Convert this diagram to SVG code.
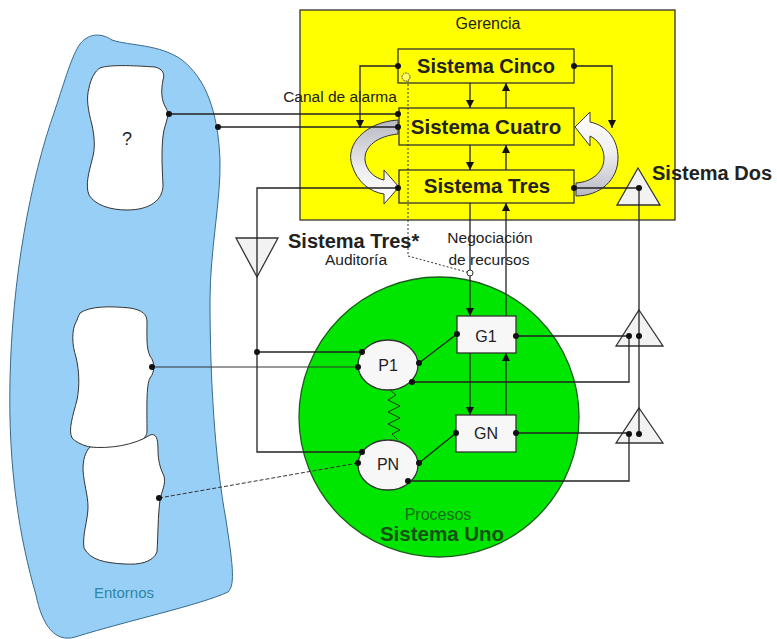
<svg xmlns="http://www.w3.org/2000/svg" width="777" height="639" viewBox="0 0 777 639">
<defs>
<style>
.ln{fill:none;stroke:#222;stroke-width:1.3}
.thin{fill:none;stroke:#333;stroke-width:1}
.dot{fill:#111}
.box{fill:#ffff00;stroke:#333;stroke-width:1.3}
.wbox{fill:#f7f7f7;stroke:#333;stroke-width:1.3}
.tri{fill:#f2f2f2;stroke:#333;stroke-width:1.3}
.hole{fill:#fff;stroke:#333;stroke-width:1}
.t{font-family:"Liberation Sans",Arial,sans-serif;fill:#222}
.b{font-weight:bold}
</style>
<marker id="arr" viewBox="0 0 10 10" refX="10" refY="5" markerWidth="8" markerHeight="8" markerUnits="userSpaceOnUse" orient="auto">
<path d="M0,0 L10,5 L0,10 z" fill="#111"/>
</marker>
<linearGradient id="gL" x1="0" y1="0" x2="0" y2="1">
<stop offset="0" stop-color="#b8b8c4"/>
<stop offset="0.6" stop-color="#eeeeee"/>
<stop offset="1" stop-color="#ffffff"/>
</linearGradient>
<linearGradient id="gR" x1="0" y1="0" x2="0" y2="1">
<stop offset="0" stop-color="#ffffff"/>
<stop offset="0.5" stop-color="#eeeeee"/>
<stop offset="1" stop-color="#b8b8c4"/>
</linearGradient>
</defs>

<g id="entornos">
<path d="M80,44 C88,34 100,32 112,40 C130,46 160,44 182,60 C205,78 218,110 220,160 C221,200 210,250 210,300 C210,380 215,460 226,520 C232,560 236,585 228,592 C200,605 130,620 75,637 C55,643 42,625 36,595 C20,540 8,470 10,380 C12,280 30,180 55,110 C65,80 72,55 80,44 Z" fill="#98cff6" stroke="#3a6a8a" stroke-width="1"/>
<path class="hole" d="M100,68 C110,64 140,66 155,67 C163,69 165,74 163,80 C161,90 161,100 166,108 C170,114 166,122 164,130 C161,145 162,165 163,185 C163,200 150,210 127,210 C110,210 95,205 89,195 C85,185 89,172 92,160 C96,147 94,135 92,125 C88,110 86,98 89,88 C91,78 95,71 100,68 Z"/>
<text class="t" x="127" y="145" font-size="18" text-anchor="middle">?</text>
<path class="hole" d="M80,313 C90,306 110,306 130,308 C142,310 147,314 147,322 C147,335 146,348 150,356 C155,362 155,372 150,378 C146,385 147,410 147,432 C146,440 135,446 112,449 C95,450 78,445 72,438 C68,430 73,415 77,400 C80,385 79,370 76,357 C72,345 71,330 77,320 C78,317 79,315 80,313 Z"/>
<path class="hole" d="M90,447 C110,449 135,445 150,435 C156,433 158,438 158,450 C158,460 160,468 164,476 C166,484 162,490 160,500 C158,515 158,535 157,552 C153,562 140,565 125,564 C105,563 90,560 84,548 C82,535 88,520 88,507 C88,495 84,485 83,470 C83,460 85,452 90,447 Z"/>
<text class="t" x="124" y="598" font-size="15" fill="#2c86a8" style="fill:#2c86a8" text-anchor="middle">Entornos</text>
</g>

<g id="gerencia">
<rect class="box" x="300" y="10" width="375" height="210"/>
<text class="t" x="488" y="29" font-size="16" text-anchor="middle">Gerencia</text>
<text class="t" x="340" y="102" font-size="15.5" text-anchor="middle">Canal de alarma</text>
</g>

<g id="arrows-curved">
<path d="M398,120 C365,122 345,145 352,165 C357,182 370,192 384,194 L384,204 L399,187 L384,170 L384,180 C374,178 366,170 365,160 C364,146 378,136 398,134 Z" fill="url(#gL)" stroke="#333" stroke-width="1"/>
<path d="M576,183 C592,182 604,172 604,158 C604,148 598,140 590,136 L590,146 L575,127 L590,112 L590,122 C608,126 618,140 618,158 C618,180 600,196 576,196 Z" fill="url(#gR)" stroke="#333" stroke-width="1"/>
</g>

<g id="sistema-cinco">
<rect class="box" x="398" y="49" width="176" height="34"/>
<text class="t b" x="486" y="73" font-size="20" text-anchor="middle">Sistema Cinco</text>
</g>
<g id="sistema-cuatro">
<rect class="box" x="399" y="108" width="175" height="37"/>
<text class="t b" x="486" y="134" font-size="20.5" text-anchor="middle">Sistema Cuatro</text>
</g>
<g id="sistema-tres">
<rect class="box" x="399" y="170" width="175" height="33"/>
<text class="t b" x="487" y="193" font-size="20.5" text-anchor="middle">Sistema Tres</text>
</g>

<g id="sistema-dos">
<path class="tri" d="M638,168 L660,205 L617,205 Z"/>
<text class="t b" x="652" y="180" font-size="20">Sistema Dos</text>
</g>

<g id="sistema-tres-star">
<path class="tri" d="M236,238 L278,238 L257,277 Z"/>
<text class="t b" x="288" y="248" font-size="20">Sistema Tres*</text>
<text class="t" x="356" y="265" font-size="15.5" text-anchor="middle">Auditoría</text>
</g>

<g id="negociacion">
<text class="t" x="490" y="243" font-size="15.5" text-anchor="middle">Negociación</text>
<text class="t" x="489" y="265" font-size="15.5" text-anchor="middle">de recursos</text>
</g>

<g id="sistema-uno">
<circle cx="439" cy="417" r="140" fill="#00e600" stroke="#1c5c1c" stroke-width="1.3"/>
<text class="t" x="438" y="520" font-size="16" style="fill:#1d6b1d" text-anchor="middle">Procesos</text>
<text class="t b" x="442" y="541" font-size="20.5" style="fill:#145214" text-anchor="middle">Sistema Uno</text>
</g>

<g id="tri-g1">
<path class="tri" d="M639,310 L663,346 L616,346 Z"/>
</g>
<g id="tri-gn">
<path class="tri" d="M639,408 L663,443 L616,443 Z"/>
</g>

<g id="connectors">
<path class="ln" d="M169,114 H398"/>
<path class="ln" d="M218,127 H398"/>
<path class="ln" d="M398,66 H360 V128" marker-end="url(#arr)"/>
<path class="ln" d="M574,66 H612 V128" marker-end="url(#arr)"/>
<path class="ln" d="M470,83 V108" marker-end="url(#arr)"/>
<path class="ln" d="M506,108 V83" marker-end="url(#arr)"/>
<path class="ln" d="M470,145 V170" marker-end="url(#arr)"/>
<path class="ln" d="M506,170 V145" marker-end="url(#arr)"/>
<path class="ln" d="M398,188 H257 V452 H362"/>
<path class="ln" d="M257,352 H362"/>
<path class="thin" d="M152,367 H358"/>
<path class="thin" d="M159,498 L358,463" stroke-dasharray="4,2"/>
<path class="ln" d="M574,188 H639 V434"/>
<path class="ln" d="M470,203 V316" marker-end="url(#arr)"/>
<path class="ln" d="M506,316 V203" marker-end="url(#arr)"/>
<path class="ln" d="M419,363 L457,334"/>
<path class="ln" d="M516,336 H629"/>
<path class="ln" d="M412,382 H629 V336"/>
<path class="ln" d="M470,353 V415" marker-end="url(#arr)"/>
<path class="ln" d="M506,415 V353" marker-end="url(#arr)"/>
<path class="ln" d="M419,463 L456,433"/>
<path class="ln" d="M516,433 H629"/>
<path class="ln" d="M408,481 H629 V433"/>
<path class="thin" d="M408,80 V256 L470,273" stroke-dasharray="2,2"/>
<path class="thin" d="M390,390 L396,395 L388,400 L400,406 L388,412 L400,418 L388,424 L400,430 L392,434 L398,440"/>
<circle cx="406" cy="77" r="4" fill="#ffff66" stroke="#333" stroke-width="1" stroke-dasharray="1.5,1"/>
<circle cx="470" cy="273" r="3" fill="#fff" stroke="#333" stroke-width="1"/>
</g>

<g id="p1">
<ellipse class="wbox" cx="388" cy="365" rx="30" ry="25"/>
<text class="t" x="388" y="371" font-size="16" text-anchor="middle">P1</text>
</g>
<g id="pn">
<ellipse class="wbox" cx="388" cy="465" rx="30" ry="25"/>
<text class="t" x="388" y="470" font-size="16" text-anchor="middle">PN</text>
</g>
<g id="g1">
<rect class="wbox" x="457" y="316" width="59" height="37"/>
<text class="t" x="486" y="342" font-size="16" text-anchor="middle">G1</text>
</g>
<g id="gn">
<rect class="wbox" x="456" y="415" width="60" height="37"/>
<text class="t" x="486" y="439" font-size="16" text-anchor="middle">GN</text>
</g>

<g id="dots">
<circle class="dot" cx="169" cy="114" r="3"/>
<circle class="dot" cx="218" cy="127" r="3"/>
<circle class="dot" cx="152" cy="367" r="3"/>
<circle class="dot" cx="159" cy="498" r="3"/>
<circle class="dot" cx="257" cy="352" r="3"/>
<circle class="dot" cx="398" cy="66" r="3"/>
<circle class="dot" cx="574" cy="66" r="3"/>
<circle class="dot" cx="398" cy="114" r="3"/>
<circle class="dot" cx="398" cy="127" r="3"/>
<circle class="dot" cx="398" cy="188" r="3"/>
<circle class="dot" cx="574" cy="188" r="3"/>
<circle class="dot" cx="639" cy="188" r="3"/>
<circle class="dot" cx="362" cy="352" r="3"/>
<circle class="dot" cx="358" cy="367" r="3"/>
<circle class="dot" cx="419" cy="363" r="3"/>
<circle class="dot" cx="412" cy="382" r="3"/>
<circle class="dot" cx="362" cy="452" r="3"/>
<circle class="dot" cx="358" cy="463" r="3"/>
<circle class="dot" cx="419" cy="463" r="3"/>
<circle class="dot" cx="408" cy="481" r="3"/>
<circle class="dot" cx="457" cy="334" r="3"/>
<circle class="dot" cx="516" cy="336" r="3"/>
<circle class="dot" cx="456" cy="433" r="3"/>
<circle class="dot" cx="516" cy="433" r="3"/>
<circle class="dot" cx="629" cy="336" r="3"/>
<circle class="dot" cx="639" cy="336" r="3"/>
<circle class="dot" cx="629" cy="434" r="3"/>
<circle class="dot" cx="639" cy="434" r="3"/>
</g>
</svg>
